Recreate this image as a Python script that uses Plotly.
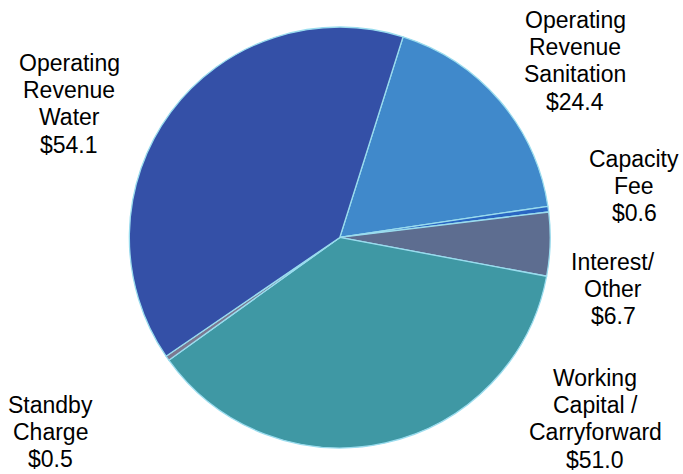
import plotly.graph_objects as go

categories = ["Operating Revenue Sanitation", "Capacity Fee", "Interest/ Other",
              "Working Capital / Carryforward", "Standby Charge", "Operating Revenue Water"]
values = [24.4, 0.6, 6.7, 51.0, 0.5, 54.1]
label_lines = [
    ["Operating", "Revenue", "Sanitation", "$24.4"],
    ["Capacity", "Fee", "$0.6"],
    ["Interest/", "Other", "$6.7"],
    ["Working", "Capital /", "Carryforward", "$51.0"],
    ["Standby", "Charge", "$0.5"],
    ["Operating", "Revenue", "Water", "$54.1"],
]
colors = ["#4089CB", "#2A66C2", "#5D6D90", "#3F98A4", "#7C7890", "#3450A7"]

W, H = 683, 474
# label anchor positions in pixels: center x, first-line center y
label_px = [(575, 20), (634, 159), (613, 262), (595, 378), (50, 405), (69, 63)]
line_step_px = 27.2

fig = go.Figure(go.Pie(
    labels=categories, values=values, sort=False, direction="clockwise",
    rotation=17.5, textinfo="none", hoverinfo="label+value",
    marker=dict(colors=colors, line=dict(color="#9ADCEE", width=1.3)),
    domain=dict(x=[0.05, 0.945], y=[0.055, 0.943]),
    showlegend=False,
))

for lines, (px, py) in zip(label_lines, label_px):
    for i, ln in enumerate(lines):
        fig.add_annotation(x=px / W, y=1 - (py + i * line_step_px) / H,
                           xref="paper", yref="paper",
                           text=ln, showarrow=False, xanchor="center", yanchor="middle",
                           font=dict(family="Liberation Sans, Arial", size=23, color="#000000"))

fig.update_layout(width=W, height=H, margin=dict(l=0, r=0, t=0, b=0),
                  paper_bgcolor="white", plot_bgcolor="white")
fig.write_html("out.html", config={"displayModeBar": False},
               post_script="document.body.style.margin='0';")
